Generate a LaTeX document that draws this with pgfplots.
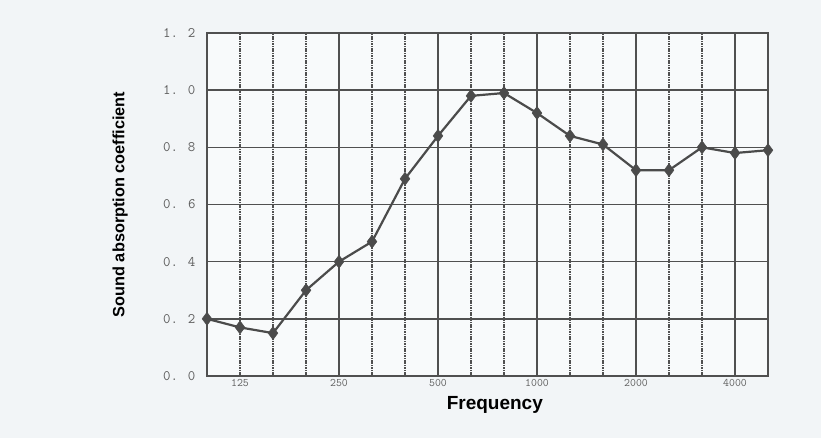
\documentclass[border=0pt]{standalone}
\usepackage{fontspec}
\setmainfont{Liberation Sans}
\usepackage{pgfplots}
\pgfplotsset{compat=1.18}
\definecolor{bg}{RGB}{242,245,247}
\definecolor{plotbg}{RGB}{248,250,251}
\definecolor{gridc}{RGB}{80,80,80}
\definecolor{linec}{RGB}{75,75,75}
\definecolor{tickc}{RGB}{95,95,95}
\begin{document}
\begin{tikzpicture}
\fill[bg] (0,0) rectangle (821pt,438pt);
\begin{axis}[
  at={(207pt,62pt)}, anchor=south west,
  scale only axis, width=561pt, height=343pt,
  xmin=0, xmax=17, ymin=0, ymax=1.2,
  axis background/.style={fill=plotbg},
  axis line style={draw=gridc, line width=1.8pt},
  xtick={4,7,10,13,16},
  xticklabels={250,500,1000,2000,4000},
  extra x ticks={1},
  extra x tick labels={125},
  extra x tick style={grid style={draw=gridc, line width=1.8pt, dash pattern=on 1.6pt off 0.8pt}},
  minor xtick={2,3,5,6,8,9,11,12,14,15},
  ytick={0,0.2,0.4,0.6,0.8,1.0,1.2},
  yticklabels={0. 0,0. 2,0. 4,0. 6,0. 8,1. 0,1. 2},
  major tick length=0pt, minor tick length=0pt,
  xmajorgrids, xminorgrids, ymajorgrids,
  major grid style={draw=gridc, line width=1.6pt},
  minor grid style={draw=gridc, line width=1.6pt, dash pattern=on 1.6pt off 0.8pt},
  xticklabel style={font=\ttfamily\fontsize{11.5}{11.5}\selectfont, text=tickc},
  yticklabel style={font=\ttfamily\fontsize{14.5}{14.5}\selectfont, text=tickc, xshift=-8pt},
  xlabel={Frequency},
  xlabel style={at={(axis description cs:0.513,-0.085)}, anchor=center, font=\bfseries\fontsize{19}{19}\selectfont},
  ylabel={Sound absorption coefficient},
  ylabel style={at={(axis description cs:-0.155,0.5)}, anchor=center, font=\bfseries\fontsize{16.3}{16.3}\selectfont},
]
\addplot[color=linec, line width=2.2pt, mark=diamond*, mark size=6.5pt, mark options={fill=linec, draw=linec, line width=0.5pt}]
coordinates {
(0,0.20) (1,0.17) (2,0.15) (3,0.30) (4,0.40) (5,0.47) (6,0.69) (7,0.84) (8,0.98)
(9,0.99) (10,0.92) (11,0.84) (12,0.81) (13,0.72) (14,0.72) (15,0.80) (16,0.78) (17,0.79)
};
\end{axis}
\end{tikzpicture}
\end{document}
